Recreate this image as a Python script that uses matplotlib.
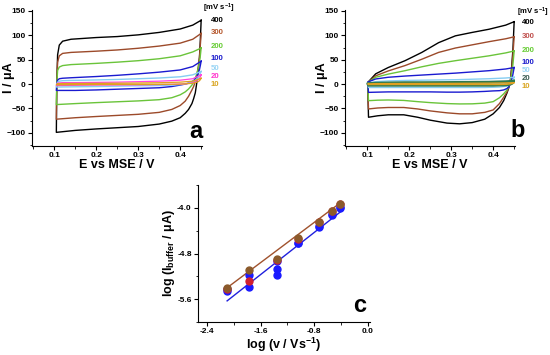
import numpy as np
import matplotlib
matplotlib.use("Agg")
import matplotlib.pyplot as plt
from matplotlib.ticker import MultipleLocator

plt.rcParams['font.family'] = ['Liberation Sans', 'DejaVu Sans']
plt.rcParams['font.weight'] = 'bold'
plt.rcParams['mathtext.fontset'] = 'custom'
plt.rcParams['mathtext.rm'] = 'Liberation Sans:bold'
plt.rcParams['mathtext.it'] = 'Liberation Sans:bold'
plt.rcParams['mathtext.bf'] = 'Liberation Sans:bold'

# ---------------- data ----------------
scan_rates = ["400", "300", "200", "100", "50", "20", "10"]

# Panel a: forward (anodic) and reverse (cathodic) potential grids
Ea_fwd = [0.105, 0.106, 0.108, 0.112, 0.120, 0.140, 0.200, 0.250, 0.300, 0.350, 0.400, 0.430, 0.450]
Ea_rev = [0.450, 0.448, 0.446, 0.443, 0.440, 0.436, 0.432, 0.428, 0.420, 0.412, 0.400, 0.380, 0.350, 0.300, 0.200, 0.150, 0.105]

a400_fwd = [-99, 0, 60, 80, 88, 92, 95.5, 97.5, 101, 106, 113, 121, 131]
a400_rev = [131, 90, 55, 28, 5, -18, -30, -40, -52, -60, -69, -76, -82, -87, -92, -95, -99]
a300_fwd = [-72, 0, 45, 58, 63, 65, 67.5, 70, 73.5, 78, 84, 92, 104]
a300_rev = [104, 80, 55, 35, 20, 5, -5, -12, -25, -35, -44, -52, -58, -62, -66.5, -69, -72]
a200_fwd = [-42, 0, 28, 35, 38, 40, 42.5, 45, 48, 52, 58, 66, 74]
a200_rev = [74, 58, 45, 32, 22, 12, 4, -2, -10, -16, -22, -28, -32, -34.5, -38, -40, -42]
a100_fwd = [-13, 0, 8, 11, 12, 13, 15.5, 18, 21, 24.5, 29, 36, 47]
a100_rev = [47, 38, 30, 22, 16, 11, 7, 5, 2, 0, -2, -5, -7.5, -9, -12, -13, -13]
a50_fwd = [-6, 0, 4, 6, 7, 7.5, 8.5, 9.5, 11, 12.5, 15, 19, 26]
a50_rev = [26, 22, 18, 14, 11, 8, 6, 4, 2, 0.5, -1, -2, -3, -3.5, -5, -5.5, -6]
a20_fwd = [-3, 0, 2, 2.5, 3, 3, 3.5, 4, 5, 6, 8, 11, 19]
a20_rev = [19, 15, 12, 9, 7, 5, 3.5, 2.5, 1.5, 0.5, 0, -0.5, -1, -1.5, -2, -2.5, -3]
a10_fwd = [-1.5, 0, 1, 1, 1.2, 1.3, 1.5, 1.8, 2.2, 2.8, 4, 6, 12]
a10_rev = [12, 9, 7, 5, 4, 3, 2, 1.5, 1, 0.5, 0, -0.3, -0.6, -0.8, -1, -1.2, -1.5]

# Panel b
Eb_fwd = [0.101, 0.120, 0.150, 0.190, 0.230, 0.270, 0.310, 0.350, 0.390, 0.430, 0.450]
Eb_rev = [0.450, 0.447, 0.444, 0.441, 0.437, 0.433, 0.425, 0.415, 0.400, 0.380, 0.350, 0.320, 0.290, 0.250, 0.220, 0.187, 0.150, 0.125, 0.103]

b400_fwd = [3, 21, 34, 48, 65, 85, 99, 106, 112.5, 121, 128]
b400_rev = [128, 70, 35, 7, -8, -18, -34, -48, -61, -72, -79, -81.5, -80, -74, -68, -63, -63, -65, -68]
b300_fwd = [3, 17, 27, 38, 51, 65, 74, 80.5, 87, 93, 97]
b300_rev = [97, 60, 30, 8, -6, -16, -27, -40, -53, -58, -61, -61, -59, -55, -51, -48, -48, -49, -51]
b200_fwd = [3, 14, 20.5, 27.5, 35.5, 42.5, 48, 53, 58, 64, 68]
b200_rev = [68, 40, 20, 5, -5, -12, -20, -28, -36, -39, -40.5, -40.7, -40, -38, -36, -33.5, -32.6, -33, -34]
b100_fwd = [4, 10.5, 14, 16.5, 18.5, 20.5, 22.5, 25, 27.5, 31, 34]
b100_rev = [34, 20, 8, 0, -6, -9, -12, -13.5, -14, -15, -16, -16.5, -16.5, -16, -16, -16, -16, -16.5, -17]
b50_fwd = [2, 5, 6.5, 7.5, 8, 8.5, 9, 10, 11, 12.5, 14]
b50_rev = [14, 8, 3, 0, -2, -4, -5, -6, -6.5, -7, -7, -7, -7, -7, -7, -7, -7, -7, -7]
b20_fwd = [1, 2, 2.5, 3, 3, 3.2, 3.5, 3.8, 4, 5, 6]
b20_rev = [6, 3, 1, 0, -1, -1.5, -2, -2, -2.5, -2.5, -2.5, -2.5, -2.5, -2.5, -2.5, -2.5, -2.5, -2.5, -2.5]
b10_fwd = [0.5, 1, 1.2, 1.3, 1.4, 1.5, 1.6, 1.8, 2, 2.5, 3]
b10_rev = [3, 2, 1, 0.5, 0, -0.5, -0.8, -1, -1, -1, -1, -1, -1, -1, -1, -1, -1, -1, -1]

# Panel c
logv = [-2.1, -1.78, -1.36, -1.04, -0.73, -0.53, -0.41]
logI_brown = [-5.40, -5.09, -4.90, -4.53, -4.24, -4.05, -3.93]
logI_red = [-5.42, -5.28, -4.92, -4.54, -4.25, -4.06, -3.94]
logI_blue1 = [-5.43, -5.17, -4.93, -4.61, -4.32, -4.11, -3.99]
logI_blue2 = [-5.45, -5.38, -5.08, -4.62, -4.33, -4.12, -4.00]
logv_extra = [-1.36]
logI_blue_extra = [-5.17]
fit_x = [-2.1, -0.41]
fit_brown = [-5.40, -3.91]
fit_blue = [-5.63, -4.07]

# ---------------- styles ----------------
colors_a = ['#000000', '#9c4a2a', '#6ac43a', '#1a1ad0', '#86cdf2', '#ff44dd', '#e0a020']
colors_b = ['#000000', '#9c4a2a', '#6ac43a', '#1a1ad0', '#86cdf2', '#2f7a4f', '#e0a020']
lab_colors_a = ['#000000', '#b5562b', '#66cc33', '#1a1acc', '#99d5f5', '#ff33cc', '#d9a520']
lab_colors_b = ['#000000', '#c0504d', '#66cc33', '#1a1acc', '#99d5f5', '#3a5a50', '#d9a520']

W, H = 550.0, 355.0
fig = plt.figure(figsize=(5.5, 3.55), dpi=100)


def style_axes(ax):
    for s in ['top', 'right']:
        ax.spines[s].set_visible(False)
    for s in ['left', 'bottom']:
        ax.spines[s].set_linewidth(0.8)
    ax.tick_params(direction='out', length=3, width=0.8, labelsize=6, pad=1.5)
    ax.tick_params(which='minor', direction='out', length=1.8, width=0.6)
    for lab in ax.get_xticklabels() + ax.get_yticklabels():
        lab.set_fontweight('bold')


def cv_panel(ax, E_f, E_r, fwd_list, rev_list, cols, lw_list):
    for f, r, c, lw in zip(fwd_list, rev_list, cols, lw_list):
        ax.plot(list(E_r) + list(E_f), list(r) + list(f), color=c, lw=lw)
    ax.set_xlim(0.047, 0.452)
    ax.set_ylim(-127, 152)
    ax.xaxis.set_major_locator(MultipleLocator(0.1))
    ax.xaxis.set_minor_locator(MultipleLocator(0.05))
    ax.yaxis.set_major_locator(MultipleLocator(50))
    ax.yaxis.set_minor_locator(MultipleLocator(25))
    ax.set_xticks([0.1, 0.2, 0.3, 0.4])
    ax.set_xticklabels(['0.1', '0.2', '0.3', '0.4'])
    ax.set_xlabel('E vs MSE / V', fontsize=9, fontweight='bold')
    ax.set_ylabel('I / μA', fontsize=9, fontweight='bold', va='center')
    ax.xaxis.set_label_coords(0.5, -0.095)
    ax.yaxis.set_label_coords(-0.135, 0.5)
    style_axes(ax)


# Panel a
axa = fig.add_axes([32 / W, 1 - 146 / H, 170 / W, 136 / H])
cv_panel(axa, Ea_fwd, Ea_rev,
         [a400_fwd, a300_fwd, a200_fwd, a100_fwd, a50_fwd, a20_fwd, a10_fwd],
         [a400_rev, a300_rev, a200_rev, a100_rev, a50_rev, a20_rev, a10_rev],
         colors_a, [1.0, 1.0, 1.0, 1.0, 1.0, 0.9, 0.9])

# Panel b
axb = fig.add_axes([345 / W, 1 - 146 / H, 170 / W, 136 / H])
cv_panel(axb, Eb_fwd, Eb_rev,
         [b400_fwd, b300_fwd, b200_fwd, b100_fwd, b50_fwd, b20_fwd, b10_fwd],
         [b400_rev, b300_rev, b200_rev, b100_rev, b50_rev, b20_rev, b10_rev],
         colors_b, [1.0, 1.0, 1.0, 1.0, 1.0, 2.0, 0.9])

# legend-like labels
ys_a = [20, 33, 46, 58, 68, 76, 84]
for t, c, y in zip(scan_rates, lab_colors_a, ys_a):
    fig.text(211 / W, 1 - y / H, t, color=c, fontsize=5.6, fontweight='bold',
             ha='left', va='center')
fig.text(203 / W, 1 - 8 / H, '[mV s$^{-1}$]', fontsize=5.6, fontweight='bold',
         ha='left', va='center')
ys_b = [22, 36, 51, 62, 70, 78, 86]
for t, c, y in zip(scan_rates, lab_colors_b, ys_b):
    fig.text(522 / W, 1 - y / H, t, color=c, fontsize=5.6, fontweight='bold',
             ha='left', va='center')
fig.text(517 / W, 1 - 12 / H, '[mV s$^{-1}$]', fontsize=5.6, fontweight='bold',
         ha='left', va='center')

fig.text(196 / W, 1 - 132 / H, 'a', fontsize=17, fontweight='bold', ha='center', va='center')
fig.text(518 / W, 1 - 131 / H, 'b', fontsize=17, fontweight='bold', ha='center', va='center')

# Panel c
axc = fig.add_axes([198 / W, 1 - 322 / H, 172 / W, 137 / H])
axc.plot(fit_x, fit_brown, color='#a0522d', lw=1.0, zorder=2)
axc.plot(fit_x, fit_blue, color='#2020dd', lw=1.0, zorder=2)
ms = 5
axc.plot(logv, logI_blue2, 'o', color='#1a1aff', ms=ms, zorder=3)
axc.plot(logv_extra, logI_blue_extra, 'o', color='#1a1aff', ms=ms, zorder=3)
axc.plot(logv, logI_blue1, 'o', color='#1a1aff', ms=ms, zorder=3)
axc.plot(logv, logI_red, 'o', color='#d02030', ms=ms, zorder=4)
axc.plot(logv, logI_brown, 'o', color='#8b5a2b', ms=ms, zorder=5)
axc.set_xlim(-2.534, 0.03)
axc.set_ylim(-6.0, -3.6)
axc.xaxis.set_major_locator(MultipleLocator(0.8))
axc.xaxis.set_minor_locator(MultipleLocator(0.4))
axc.yaxis.set_major_locator(MultipleLocator(0.8))
axc.yaxis.set_minor_locator(MultipleLocator(0.4))
axc.set_xticks([-2.4, -1.6, -0.8, 0.0])
axc.set_xticklabels(['-2.4', '-1.6', '-0.8', '0.0'])
axc.set_yticks([-5.6, -4.8, -4.0])
axc.set_yticklabels(['-5.6', '-4.8', '-4.0'])
axc.set_xlabel('log (v / Vs$^{-1}$)', fontsize=9, fontweight='bold')
axc.set_ylabel('log (I$_{buffer}$ / μA)', fontsize=9, fontweight='bold', va='center')
axc.xaxis.set_label_coords(0.5, -0.1)
axc.yaxis.set_label_coords(-0.169, 0.5)
style_axes(axc)
fig.text(360 / W, 1 - 305 / H, 'c', fontsize=17, fontweight='bold', ha='center', va='center')

fig.savefig('out.png', dpi=100)
